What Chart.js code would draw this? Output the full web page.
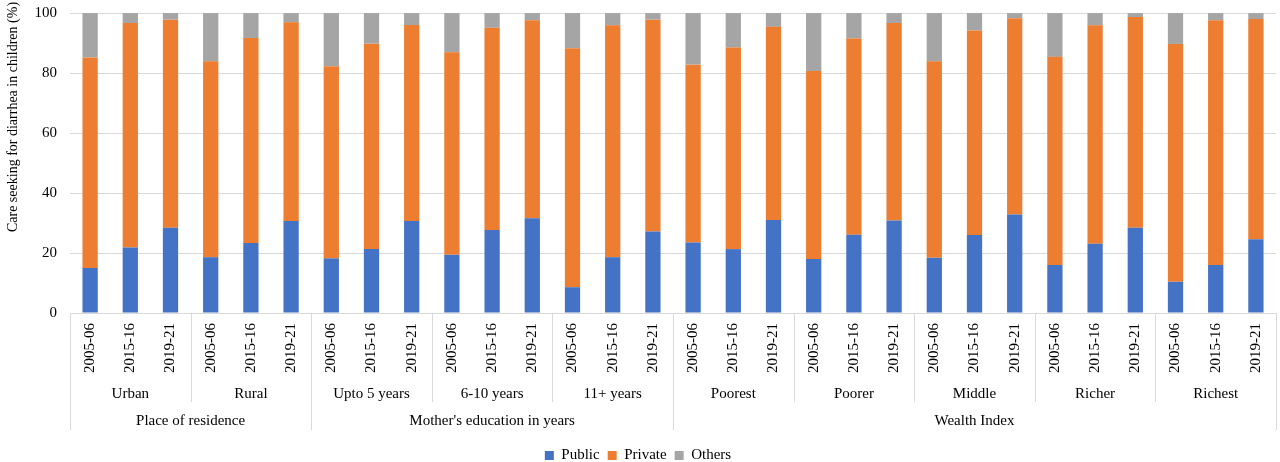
<!DOCTYPE html>
<html>
<head>
<meta charset="utf-8">
<script src="https://cdn.jsdelivr.net/npm/chart.js@4"></script>
<style>
  html, body { margin: 0; padding: 0; background: #fff; }
  #wrap { width: 1280px; height: 462px; }
</style>
</head>
<body>
<div id="wrap"><canvas id="chart"></canvas></div>
<script>
const years = ['2005-06', '2015-16', '2019-21'];
const subgroups = ['Urban', 'Rural', 'Upto 5 years', '6-10 years', '11+ years',
  'Poorest', 'Poorer', 'Middle', 'Richer', 'Richest'];
const groups = ['Place of residence', "Mother's education in years", 'Wealth Index'];
const groupSizes = [2, 3, 5]; // subgroups per group

const publicVals = [15.0, 21.8, 28.4, 18.6, 23.3, 30.7, 18.2, 21.3, 30.7, 19.4,
  27.7, 31.6, 8.6, 18.6, 27.2, 23.5, 21.3, 31.0, 18.0, 26.1,
  30.8, 18.4, 26.0, 32.8, 16.0, 23.1, 28.4, 10.4, 16.0, 24.6];
const privateVals = [70.2, 74.9, 69.4, 65.3, 68.4, 66.2, 64.1, 68.5, 65.3, 67.5,
  67.4, 66.0, 79.7, 77.3, 70.6, 59.3, 67.2, 64.4, 62.7, 65.4,
  65.9, 65.5, 68.2, 65.5, 69.4, 72.8, 70.3, 79.3, 81.6, 73.4];
const othersVals = [14.8, 3.3, 2.2, 16.1, 8.3, 3.1, 17.7, 10.2, 4.0, 13.1,
  4.9, 2.4, 11.7, 4.1, 2.2, 17.2, 11.5, 4.6, 19.3, 8.5,
  3.3, 16.1, 5.8, 1.7, 14.6, 4.1, 1.3, 10.3, 2.4, 2.0];
const yTicks = [0, 20, 40, 60, 80, 100];
const yTitle = 'Care seeking for diarrhea in children (%)';

const labels = [];
subgroups.forEach(() => years.forEach(y => labels.push(y)));

const font = 'Liberation Serif';
const lineColor = '#d9d9d9';

// multi-level category rows under the x axis, plus the y axis title
const categoryRows = {
  id: 'categoryRows',
  afterDraw(chart) {
    const ctx = chart.ctx;
    const x = chart.scales.x;
    const base = chart.chartArea.bottom;
    const half = (x.getPixelForValue(1) - x.getPixelForValue(0)) / 2;
    const edge = i => x.getPixelForValue(i) - half;
    ctx.save();
    ctx.strokeStyle = lineColor;
    ctx.lineWidth = 1;
    ctx.fillStyle = '#000';
    ctx.font = '15px "' + font + '"';
    ctx.textAlign = 'center';
    ctx.textBaseline = 'middle';

    const groupEdges = [0];
    groupSizes.reduce((acc, n) => { groupEdges.push((acc + n) * 3); return acc + n; }, 0);
    for (let s = 0; s <= subgroups.length; s++) {
      const i = s * 3;
      const px = Math.round(edge(i)) + 0.5;
      const len = groupEdges.includes(i) ? 117 : 89;
      ctx.beginPath();
      ctx.moveTo(px, base);
      ctx.lineTo(px, base + len);
      ctx.stroke();
      if (s < subgroups.length) {
        ctx.fillText(subgroups[s], x.getPixelForValue(i + 1), base + 81);
      }
    }
    for (let g = 0; g < groups.length; g++) {
      const a = groupEdges[g], b = groupEdges[g + 1] - 1;
      const cx = (x.getPixelForValue(a) + x.getPixelForValue(b)) / 2;
      ctx.fillText(groups[g], cx, base + 108);
    }

    // y title (sits above centre, like the original)
    ctx.font = '14px "' + font + '"';
    ctx.translate(13, 117);
    ctx.rotate(-Math.PI / 2);
    ctx.fillText(yTitle, 0, 0);
    ctx.restore();
  }
};

new Chart(document.getElementById('chart'), {
  type: 'bar',
  data: {
    labels: labels,
    datasets: [
      { label: 'Public', data: publicVals, backgroundColor: '#4472c4' },
      { label: 'Private', data: privateVals, backgroundColor: '#ed7d31' },
      { label: 'Others', data: othersVals, backgroundColor: '#a5a5a5' },
    ],
  },
  options: {
    responsive: true,
    maintainAspectRatio: false,
    animation: false,
    barPercentage: 0.38,
    categoryPercentage: 1,
    layout: { padding: { top: 13, right: 4, left: 0, bottom: -11 } },
    plugins: {
      tooltip: { enabled: false },
      legend: {
        position: 'bottom',
        labels: {
          color: '#000',
          font: { family: font, size: 15 },
          boxWidth: 9,
          boxHeight: 9,
          padding: 8,
        },
      },
    },
    scales: {
      x: {
        stacked: true,
        grid: { display: false },
        border: { color: lineColor },
        ticks: {
          color: '#000',
          font: { family: font, size: 15 },
          minRotation: 90,
          maxRotation: 90,
          autoSkip: false,
          padding: 2,
        },
        afterFit(scale) { scale.height = 127; },
      },
      y: {
        stacked: true,
        min: 0,
        max: 100,
        afterBuildTicks(scale) { scale.ticks = yTicks.map(v => ({ value: v })); },
        grid: { color: lineColor, drawTicks: false },
        border: { display: false },
        ticks: {
          color: '#000',
          font: { family: font, size: 15, lineHeight: 0.01 },
          padding: 13,
        },
        afterFit(scale) { scale.width = 70; },
      },
    },
  },
  plugins: [categoryRows],
});
</script>
</body>
</html>
